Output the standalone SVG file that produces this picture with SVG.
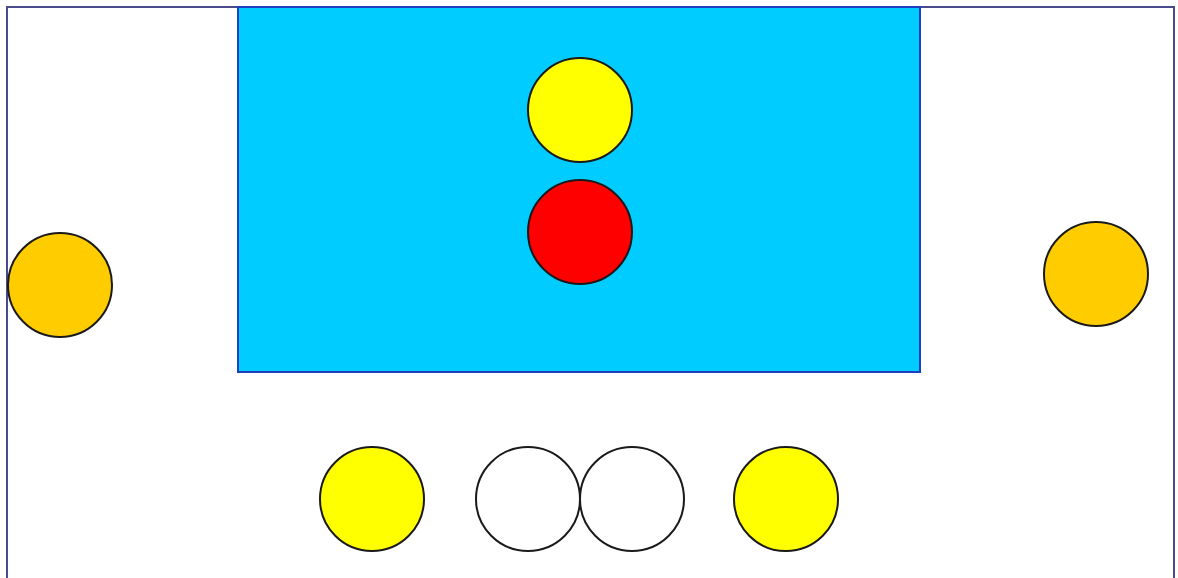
<svg xmlns="http://www.w3.org/2000/svg" width="1178" height="578" viewBox="0 0 1178 578">
<style>
.ball{stroke:#1a1a1a;stroke-width:2}
.yellow{fill:#ffff00}
.orange{fill:#ffcc00}
.red{fill:#ff0000}
.white{fill:#ffffff}
</style>
<rect width="1178" height="578" fill="#ffffff"/>
<rect id="border" x="7" y="7" width="1167" height="576" fill="#ffffff" stroke="#4b4b8c" stroke-width="2"/>
<rect id="pool" x="238" y="7" width="682" height="365" fill="#00ccff" stroke="#1c3fc0" stroke-width="2"/>
<circle id="top-yellow" class="ball yellow" cx="580" cy="110" r="52"/>
<circle id="red" class="ball red" cx="580" cy="232" r="52"/>
<circle id="left-orange" class="ball orange" cx="60" cy="285" r="52"/>
<circle id="right-orange" class="ball orange" cx="1096" cy="274" r="52"/>
<circle id="bottom-yellow-left" class="ball yellow" cx="372" cy="499" r="52"/>
<circle id="white-left" class="ball white" cx="528" cy="499" r="52"/>
<circle id="white-right" class="ball white" cx="632" cy="499" r="52"/>
<circle id="bottom-yellow-right" class="ball yellow" cx="786" cy="499" r="52"/>
</svg>
